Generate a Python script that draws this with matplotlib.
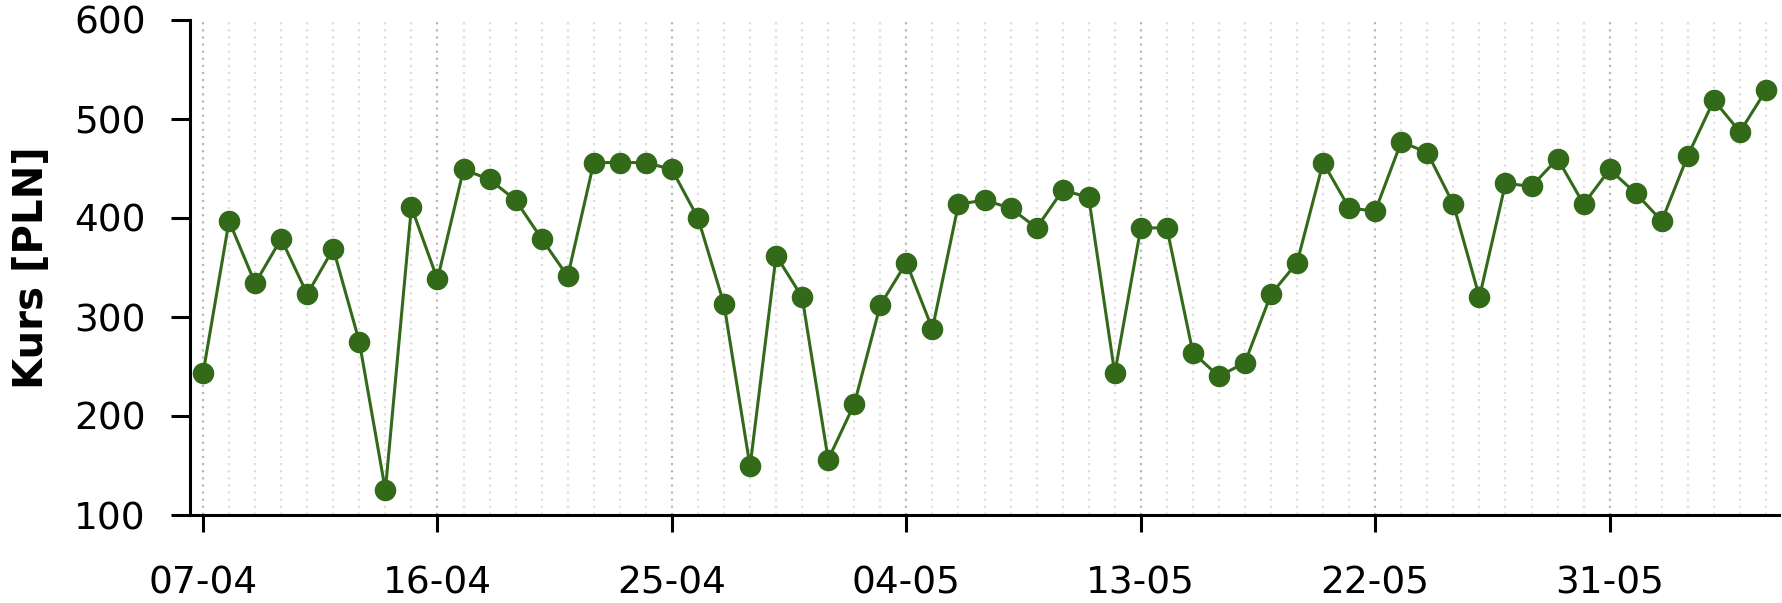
import matplotlib
matplotlib.use("Agg")
import matplotlib.pyplot as plt
import matplotlib.dates as mdates
import pandas as pd
import numpy as np

start_date = "2023-04-07"
values = [243, 397, 334, 379, 323, 369, 275, 125, 411, 338,
          449, 439, 418, 379, 341, 456, 456, 456, 449, 400,
          313, 149, 362, 320, 156, 212, 312, 355, 288, 414,
          418, 410, 390, 428, 421, 243, 390, 390, 264, 240,
          254, 323, 355, 456, 410, 407, 477, 466, 414, 320,
          435, 432, 460, 414, 449, 425, 397, 463, 519, 487, 529]
dates = pd.date_range(start_date, periods=len(values), freq="D")
major_ticks = dates[::9]
y_ticks = [100, 200, 300, 400, 500, 600]
y_label = "Kurs [PLN]"

line_color = "#336a1a"

plt.rcParams['font.family'] = ['DejaVu Sans']
fig = plt.figure(figsize=(17.82, 6.03), dpi=100)
ax = fig.add_axes([190/1782, 88/603, (1779-190)/1782, (515-20)/603])

# dotted daily grid
major_set = set(major_ticks)
for d in dates:
    is_major = d in major_set
    ax.axvline(d, color="#b8b8b8" if is_major else "#dedede",
               linestyle=(0, (1, 2.2)), linewidth=1.6, zorder=0)

ax.plot(dates, values, color=line_color, linewidth=2.2, marker="o",
        markersize=14.5, markerfacecolor=line_color, markeredgecolor=line_color,
        zorder=3)

ax.set_xlim(dates[0] - pd.Timedelta(hours=12), dates[-1] + pd.Timedelta(hours=12))
ax.set_ylim(100, 600)
ax.set_yticks(y_ticks)
ax.set_xticks(major_ticks)
ax.xaxis.set_major_formatter(mdates.DateFormatter("%d-%m"))

for s in ["top", "right"]:
    ax.spines[s].set_visible(False)
for s in ["left", "bottom"]:
    ax.spines[s].set_linewidth(2.2)
    ax.spines[s].set_color("black")

ax.tick_params(axis="y", length=14, width=2.2, labelsize=27, pad=18)
ax.tick_params(axis="x", length=12, width=2.2, labelsize=27, pad=24)
ax.set_ylabel(y_label, fontsize=29, fontweight="bold")
ax.yaxis.set_label_coords(-0.087, 0.5)

fig.savefig("out.png", dpi=100)
